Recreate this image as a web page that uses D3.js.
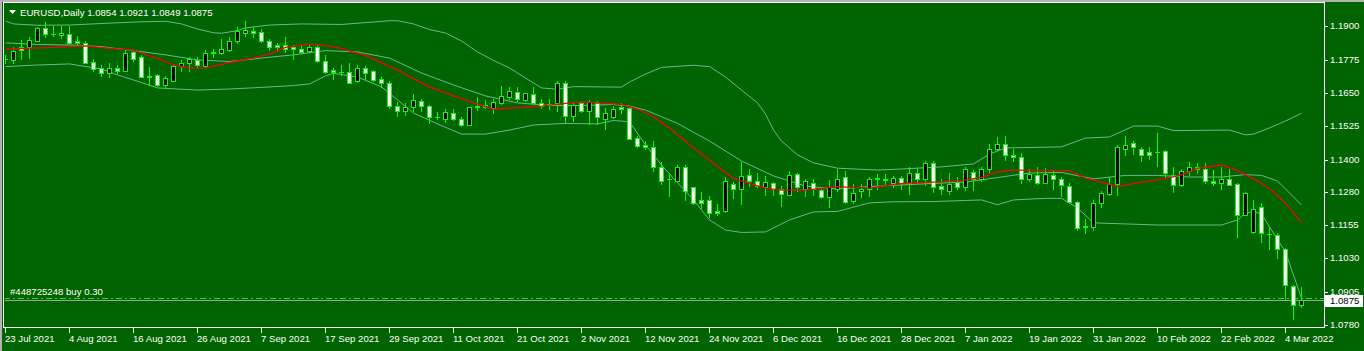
<!DOCTYPE html>
<html>
<head>
<meta charset="utf-8">
<script src="https://cdn.jsdelivr.net/npm/d3@7"></script>
<style>
  html, body { margin: 0; padding: 0; background: #006400; }
  svg { display: block; }
  text { font-family: "Liberation Sans", Arial, sans-serif; }
</style>
</head>
<body>
<div id="chart"></div>
<script>
// EURUSD daily bars, 23 Jul 2021 .. 8 Mar 2022
var openP = [1.1777,1.1774,1.1824,1.1823,1.1846,1.1893,1.1872,1.1868,1.1871,1.1845,
  1.1839,1.1765,1.1744,1.1724,1.1743,1.1734,1.1804,1.1784,1.1712,1.1716,
  1.1679,1.1696,1.1751,1.1761,1.1774,1.1751,1.1802,1.1799,1.1811,1.1844,
  1.1876,1.1884,1.1879,1.1844,1.1829,1.1829,1.1821,1.1816,1.1806,1.1821,
  1.1769,1.1736,1.1730,1.1729,1.1694,1.1744,1.1731,1.1701,1.1686,1.1601,
  1.1581,1.1599,1.1621,1.1601,1.1560,1.1554,1.1576,1.1554,1.1531,1.1600,
  1.1599,1.1594,1.1614,1.1636,1.1654,1.1624,1.1646,1.1611,1.1607,1.1611,
  1.1686,1.1564,1.1614,1.1581,1.1614,1.1554,1.1561,1.1596,1.1594,1.1480,
  1.1455,1.1446,1.1371,1.1328,1.1321,1.1371,1.1296,1.1249,1.1249,1.1209,
  1.1206,1.1309,1.1291,1.1341,1.1319,1.1299,1.1311,1.1289,1.1269,1.1346,
  1.1291,1.1314,1.1286,1.1259,1.1291,1.1334,1.1244,1.1284,1.1289,1.1330,
  1.1325,1.1314,1.1331,1.1311,1.1349,1.1326,1.1386,1.1301,1.1284,1.1316,
  1.1299,1.1354,1.1329,1.1366,1.1441,1.1459,1.1416,1.1409,1.1326,1.1341,
  1.1314,1.1344,1.1326,1.1301,1.1241,1.1150,1.1146,1.1236,1.1271,1.1309,
  1.1441,1.1464,1.1441,1.1429,1.1430,1.1431,1.1341,1.1306,1.1359,1.1374,
  1.1364,1.1319,1.1311,1.1326,1.1309,1.1194,1.1129,1.1221,1.1122,1.1116,
  1.1066,1.0926,1.0854];
var highP = [1.1793,1.1823,1.1847,1.1861,1.1898,1.1915,1.1902,1.1902,1.1903,1.1864,
  1.1844,1.1779,1.1755,1.1763,1.1756,1.1811,1.1811,1.1791,1.1749,1.1721,
  1.1714,1.1754,1.1774,1.1786,1.1784,1.1811,1.1814,1.1851,1.1861,1.1899,
  1.1919,1.1896,1.1891,1.1851,1.1839,1.1861,1.1829,1.1831,1.1831,1.1829,
  1.1794,1.1744,1.1754,1.1761,1.1756,1.1751,1.1736,1.1709,1.1694,1.1616,
  1.1614,1.1646,1.1626,1.1604,1.1579,1.1589,1.1589,1.1561,1.1599,1.1634,
  1.1624,1.1626,1.1676,1.1671,1.1671,1.1651,1.1674,1.1629,1.1629,1.1696,
  1.1694,1.1616,1.1619,1.1624,1.1621,1.1594,1.1601,1.1611,1.1598,1.1489,
  1.1469,1.1471,1.1391,1.1346,1.1379,1.1379,1.1299,1.1279,1.1264,1.1234,
  1.1334,1.1316,1.1391,1.1366,1.1351,1.1339,1.1316,1.1301,1.1359,1.1349,
  1.1326,1.1326,1.1294,1.1324,1.1366,1.1356,1.1309,1.1309,1.1334,1.1346,
  1.1346,1.1339,1.1339,1.1371,1.1369,1.1394,1.1394,1.1326,1.1349,1.1336,
  1.1374,1.1361,1.1374,1.1459,1.1486,1.1489,1.1439,1.1424,1.1366,1.1371,
  1.1369,1.1356,1.1336,1.1311,1.1244,1.1179,1.1249,1.1284,1.1334,1.1454,
  1.1489,1.1469,1.1449,1.1449,1.1499,1.1436,1.1371,1.1366,1.1391,1.1386,
  1.1389,1.1361,1.1371,1.1364,1.1314,1.1279,1.1249,1.1239,1.1146,1.1126,
  1.1069,1.0929,1.0921];
var lowP = [1.1763,1.1763,1.1776,1.1783,1.1844,1.1859,1.1865,1.1857,1.1834,1.1830,
  1.1761,1.1734,1.1714,1.1710,1.1726,1.1731,1.1769,1.1709,1.1679,1.1676,
  1.1671,1.1694,1.1731,1.1731,1.1749,1.1749,1.1786,1.1796,1.1809,1.1839,
  1.1864,1.1861,1.1841,1.1811,1.1809,1.1804,1.1776,1.1801,1.1804,1.1766,
  1.1726,1.1704,1.1719,1.1686,1.1691,1.1704,1.1694,1.1671,1.1594,1.1564,
  1.1566,1.1584,1.1584,1.1539,1.1551,1.1541,1.1549,1.1526,1.1529,1.1586,
  1.1594,1.1574,1.1609,1.1626,1.1621,1.1619,1.1609,1.1594,1.1589,1.1584,
  1.1539,1.1546,1.1579,1.1534,1.1534,1.1516,1.1556,1.1574,1.1476,1.1446,
  1.1440,1.1359,1.1309,1.1264,1.1319,1.1249,1.1234,1.1219,1.1184,1.1194,
  1.1204,1.1256,1.1234,1.1301,1.1296,1.1269,1.1269,1.1226,1.1266,1.1284,
  1.1264,1.1266,1.1256,1.1224,1.1284,1.1236,1.1239,1.1261,1.1264,1.1291,
  1.1309,1.1299,1.1291,1.1271,1.1314,1.1306,1.1279,1.1271,1.1271,1.1291,
  1.1286,1.1286,1.1319,1.1354,1.1436,1.1399,1.1394,1.1311,1.1321,1.1309,
  1.1311,1.1291,1.1264,1.1236,1.1136,1.1124,1.1136,1.1221,1.1269,1.1269,
  1.1416,1.1421,1.1396,1.1404,1.1376,1.1336,1.1279,1.1301,1.1341,1.1349,
  1.1314,1.1306,1.1291,1.1304,1.1109,1.1191,1.1126,1.1091,1.1064,1.1031,
  1.0879,1.0804,1.0849];
var closeP = [1.1779,1.1808,1.1811,1.1849,1.1893,1.1872,1.1873,1.1876,1.1839,1.1838,
  1.1764,1.1739,1.1726,1.1744,1.1734,1.1801,1.1779,1.1711,1.1711,1.1679,
  1.1706,1.1751,1.1764,1.1776,1.1756,1.1801,1.1801,1.1814,1.1844,1.1881,
  1.1886,1.1874,1.1844,1.1821,1.1821,1.1814,1.1814,1.1804,1.1821,1.1769,
  1.1729,1.1727,1.1729,1.1689,1.1744,1.1724,1.1699,1.1686,1.1601,1.1581,
  1.1596,1.1624,1.1601,1.1559,1.1559,1.1579,1.1554,1.1531,1.1596,1.1599,
  1.1604,1.1616,1.1639,1.1656,1.1626,1.1649,1.1611,1.1601,1.1606,1.1686,
  1.1564,1.1606,1.1584,1.1616,1.1559,1.1576,1.1589,1.1589,1.1479,1.1453,
  1.1446,1.1371,1.1321,1.1326,1.1371,1.1281,1.1236,1.1236,1.1199,1.1199,
  1.1319,1.1291,1.1339,1.1321,1.1301,1.1316,1.1289,1.1271,1.1344,1.1299,
  1.1319,1.1289,1.1259,1.1296,1.1329,1.1241,1.1276,1.1291,1.1326,1.1329,
  1.1326,1.1331,1.1311,1.1349,1.1326,1.1386,1.1299,1.1289,1.1309,1.1299,
  1.1364,1.1329,1.1366,1.1441,1.1459,1.1419,1.1409,1.1329,1.1346,1.1311,
  1.1346,1.1329,1.1304,1.1241,1.1144,1.1149,1.1236,1.1274,1.1309,1.1446,
  1.1454,1.1446,1.1419,1.1419,1.1429,1.1351,1.1306,1.1359,1.1374,1.1364,
  1.1321,1.1311,1.1326,1.1306,1.1191,1.1274,1.1216,1.1124,1.1121,1.1066,
  1.0931,1.0854,1.0875];

// indicator lines as [bar, price]
var upperBand = [[0,1.1920],[1,1.1909],[4,1.1904],[8,1.1905],[13,1.1912],[17,1.1917],[20,1.1919],
  [22,1.1909],[24,1.1890],[26,1.1876],[27,1.1874],[29,1.1884],[30,1.1894],[33,1.1905],[37,1.1909],
  [42,1.1907],[45,1.1914],[48,1.1921],[49,1.1921],[51,1.1909],[53,1.1888],[55,1.1875],[57,1.1845],
  [59,1.1804],[61,1.1772],[63,1.1744],[65,1.1706],[67,1.1669],[69,1.1664],[71,1.1674],[77,1.1672],
  [78,1.1691],[80,1.1721],[82,1.1746],[86,1.1754],[88,1.1749],[90,1.1710],[92,1.1661],[94,1.1613],
  [95,1.1571],[96,1.1511],[97,1.1470],[99,1.1418],[101,1.1388],[104,1.1368],[109,1.1361],[112,1.1365],
  [117,1.1373],[121,1.1384],[123,1.1421],[125,1.1444],[132,1.1448],[135,1.1481],[138,1.1485],
  [141,1.1526],[144,1.1526],[146,1.1509],[153,1.1511],[155,1.1493],[156,1.1496],[158,1.1519],
  [160,1.1545],[162,1.1574]];
var middleBand = [[0,1.1838],[4,1.1832],[8,1.1830],[12,1.1824],[16,1.1809],[20,1.1793],[24,1.1774],
  [28,1.1768],[32,1.1781],[36,1.1793],[40,1.1809],[44,1.1804],[48,1.1781],[52,1.1725],[56,1.1680],
  [60,1.1639],[64,1.1613],[68,1.1603],[72,1.1603],[76,1.1607],[78,1.1601],[80,1.1586],[82,1.1561],
  [84,1.1536],[88,1.1470],[92,1.1395],[96,1.1339],[100,1.1301],[104,1.1290],[108,1.1299],
  [112,1.1305],[116,1.1311],[120,1.1316],[124,1.1333],[128,1.1350],[132,1.1352],[136,1.1328],
  [140,1.1341],[144,1.1341],[148,1.1335],[152,1.1335],[155,1.1344],[157,1.1341],[159,1.1320],
  [162,1.1230]];
var lowerBand = [[0,1.1749],[4,1.1755],[8,1.1759],[12,1.1740],[14,1.1718],[16,1.1699],[19,1.1669],
  [24,1.1661],[28,1.1665],[32,1.1671],[36,1.1678],[38,1.1684],[40,1.1714],[41,1.1724],[44,1.1710],
  [47,1.1673],[49,1.1624],[51,1.1575],[54,1.1534],[57,1.1496],[60,1.1496],[63,1.1511],[66,1.1530],
  [70,1.1536],[74,1.1534],[76,1.1547],[78,1.1542],[80,1.1455],[82,1.1380],[84,1.1313],[86,1.1249],
  [88,1.1174],[90,1.1136],[92,1.1127],[95,1.1129],[98,1.1174],[101,1.1204],[104,1.1206],
  [108,1.1238],[111,1.1242],[116,1.1243],[120,1.1247],[122,1.1249],[124,1.1231],[126,1.1249],
  [130,1.1255],[132,1.1255],[134,1.1219],[136,1.1163],[140,1.1159],[144,1.1155],[152,1.1155],
  [154,1.1174],[155,1.1200],[156,1.1206],[157,1.1196],[158,1.1148],[160,1.1054],[162,1.0880]];
var maLine = [[0,1.1814],[5,1.1820],[10,1.1827],[12,1.1820],[16,1.1811],[17,1.1800],[19,1.1780],
  [21,1.1755],[23,1.1743],[25,1.1744],[27,1.1757],[29,1.1770],[31,1.1782],[33,1.1796],[35,1.1821],
  [38,1.1834],[41,1.1824],[45,1.1791],[49,1.1736],[53,1.1672],[57,1.1629],[61,1.1589],[64,1.1595],
  [67,1.1601],[70,1.1611],[72,1.1617],[75,1.1611],[77,1.1607],[79,1.1590],[81,1.1560],[83,1.1519],
  [85,1.1468],[87,1.1421],[89,1.1374],[91,1.1330],[93,1.1311],[95,1.1293],[97,1.1286],[100,1.1286],
  [104,1.1299],[108,1.1293],[112,1.1311],[117,1.1317],[120,1.1324],[122,1.1334],[124,1.1354],
  [126,1.1361],[133,1.1359],[135,1.1331],[137,1.1316],[139,1.1299],[141,1.1311],[145,1.1329],
  [147,1.1343],[149,1.1367],[152,1.1380],[154,1.1359],[156,1.1328],[158,1.1292],[160,1.1237],
  [162,1.1164]];

var priceTicks = [1.1900, 1.1775, 1.1650, 1.1525, 1.1400, 1.1280, 1.1155, 1.1030, 1.0905, 1.0780];
var dateLabels = ["23 Jul 2021","4 Aug 2021","16 Aug 2021","26 Aug 2021","7 Sep 2021","17 Sep 2021",
  "29 Sep 2021","11 Oct 2021","21 Oct 2021","2 Nov 2021","12 Nov 2021","24 Nov 2021","6 Dec 2021",
  "16 Dec 2021","28 Dec 2021","7 Jan 2022","19 Jan 2022","31 Jan 2022","10 Feb 2022","22 Feb 2022",
  "4 Mar 2022"];
var labelEvery = 8;
var title = "EURUSD,Daily";
var bidPrice = 1.0875;
var orderPrice = 1.0881;
var orderText = "#448725248 buy 0.30";

var width = 1364, height = 351;
var plotLeft = 4, plotRight = 1324, plotTop = 3, plotBottom = 327;
var fontSize = "9.6px";

var x = d3.scaleLinear().domain([0, 162]).range([5, 1301]);
var y = d3.scaleLinear().domain([1.0780, 1.199875]).range([325, 0]);

var svg = d3.select("#chart").append("svg")
    .attr("width", width)
    .attr("height", height);

svg.append("rect").attr("width", width).attr("height", height).attr("fill", "#006400");

svg.append("defs").append("clipPath").attr("id", "plot")
  .append("rect")
    .attr("x", plotLeft + 1).attr("y", plotTop)
    .attr("width", plotRight - plotLeft - 1).attr("height", plotBottom - plotTop);

var plot = svg.append("g").attr("clip-path", "url(#plot)");

// order line and bid line
plot.append("line")
    .attr("x1", plotLeft).attr("x2", plotRight)
    .attr("y1", Math.round(y(orderPrice)) + 0.5).attr("y2", Math.round(y(orderPrice)) + 0.5)
    .attr("stroke", "#3ad23a").attr("stroke-dasharray", "6,3,2,3");
plot.append("line")
    .attr("x1", plotLeft).attr("x2", plotRight)
    .attr("y1", Math.round(y(bidPrice)) + 0.5).attr("y2", Math.round(y(bidPrice)) + 0.5)
    .attr("stroke", "#a0a0a0");

// bollinger bands
var line = d3.line().x(d => x(d[0]) + 0.5).y(d => y(d[1]));
[upperBand, middleBand, lowerBand].forEach(function(band) {
  plot.append("path")
      .datum(band)
      .attr("d", line)
      .attr("fill", "none")
      .attr("stroke", "#66b890")
      .attr("stroke-width", 1);
});

// candles
var bars = d3.range(openP.length).map(i => ({
  i: i, o: openP[i], h: highP[i], l: lowP[i], c: closeP[i]
}));

var candle = plot.selectAll("g.candle")
  .data(bars)
  .join("g")
    .attr("class", "candle");

candle.append("rect")
    .attr("x", d => Math.round(x(d.i)))
    .attr("y", d => Math.round(y(d.h)))
    .attr("width", 1)
    .attr("height", d => Math.round(y(d.l)) - Math.round(y(d.h)) + 1)
    .attr("fill", "#00ff00");

candle.append("rect")
    .attr("x", d => Math.round(x(d.i)) - 2)
    .attr("y", d => Math.min(Math.round(y(d.o)), Math.round(y(d.c))))
    .attr("width", 5)
    .attr("height", d => Math.abs(Math.round(y(d.o)) - Math.round(y(d.c))) + 1)
    .attr("fill", "#00ff00");

candle.filter(d => Math.abs(Math.round(y(d.o)) - Math.round(y(d.c))) >= 2)
  .append("rect")
    .attr("x", d => Math.round(x(d.i)) - 1)
    .attr("y", d => Math.min(Math.round(y(d.o)), Math.round(y(d.c))) + 1)
    .attr("width", 3)
    .attr("height", d => Math.abs(Math.round(y(d.o)) - Math.round(y(d.c))) - 1)
    .attr("fill", d => d.c > d.o ? "#000000" : "#ffffff");

// moving average
plot.append("path")
    .datum(maLine)
    .attr("d", line)
    .attr("fill", "none")
    .attr("stroke", "#ff0000")
    .attr("stroke-width", 1.3);

// order label
svg.append("text")
    .attr("x", 10).attr("y", Math.round(y(orderPrice)) - 3)
    .attr("fill", "#ffffff")
    .style("font-size", fontSize)
    .text(orderText);

// frame
svg.append("rect").attr("x", 0).attr("y", 0).attr("width", width).attr("height", 2).attr("fill", "#b4b4b4");
svg.append("rect").attr("x", 0).attr("y", 0).attr("width", 2).attr("height", height).attr("fill", "#b4b4b4");
svg.append("line")
    .attr("x1", plotLeft - 0.5).attr("x2", plotLeft - 0.5).attr("y1", 2).attr("y2", plotBottom + 0.5)
    .attr("stroke", "#ffffff");
svg.append("line")
    .attr("x1", plotLeft - 1).attr("x2", plotRight + 1).attr("y1", plotTop - 0.5).attr("y2", plotTop - 0.5)
    .attr("stroke", "#ffffff");
svg.append("line")
    .attr("x1", plotRight + 0.5).attr("x2", plotRight + 0.5).attr("y1", plotTop - 1).attr("y2", plotBottom + 1)
    .attr("stroke", "#ffffff");
svg.append("line")
    .attr("x1", plotLeft - 1).attr("x2", plotRight + 1).attr("y1", plotBottom + 0.5).attr("y2", plotBottom + 0.5)
    .attr("stroke", "#ffffff");

// price axis
var pAxis = svg.append("g").selectAll("g")
  .data(priceTicks)
  .join("g")
    .attr("transform", d => `translate(0,${Math.round(y(d))})`);
pAxis.append("line")
    .attr("x1", plotRight + 1).attr("x2", plotRight + 4)
    .attr("y1", 0.5).attr("y2", 0.5)
    .attr("stroke", "#ffffff");
pAxis.append("text")
    .attr("x", plotRight + 6).attr("dy", "0.36em")
    .attr("fill", "#ffffff")
    .style("font-size", fontSize)
    .text(d => d.toFixed(4));

// current price box
var bidY = Math.round(y(bidPrice));
svg.append("rect")
    .attr("x", plotRight + 1).attr("y", bidY - 5)
    .attr("width", 38).attr("height", 12)
    .attr("fill", "#ffffff");
svg.append("text")
    .attr("x", plotRight + 6).attr("y", bidY + 1).attr("dy", "0.36em")
    .attr("fill", "#000000")
    .style("font-size", fontSize)
    .text(bidPrice.toFixed(4));

// time axis
var tAxis = svg.append("g").selectAll("g")
  .data(dateLabels)
  .join("g")
    .attr("transform", (d, k) => `translate(${Math.round(x(k * labelEvery))},0)`);
tAxis.append("line")
    .attr("x1", 0.5).attr("x2", 0.5)
    .attr("y1", plotBottom + 1).attr("y2", plotBottom + 6)
    .attr("stroke", "#ffffff");
tAxis.append("text")
    .attr("x", 0).attr("y", 342)
    .attr("fill", "#ffffff")
    .style("font-size", fontSize)
    .text(d => d);

// title
svg.append("path")
    .attr("d", "M9,10L16,10L12.5,14Z")
    .attr("fill", "#ffffff");
svg.append("text")
    .attr("x", 20).attr("y", 16)
    .attr("fill", "#ffffff")
    .style("font-size", fontSize)
    .text(`${title}  ${openP[162].toFixed(4)} ${highP[162].toFixed(4)} ${lowP[162].toFixed(4)} ${closeP[162].toFixed(4)}`);
</script>
</body>
</html>
